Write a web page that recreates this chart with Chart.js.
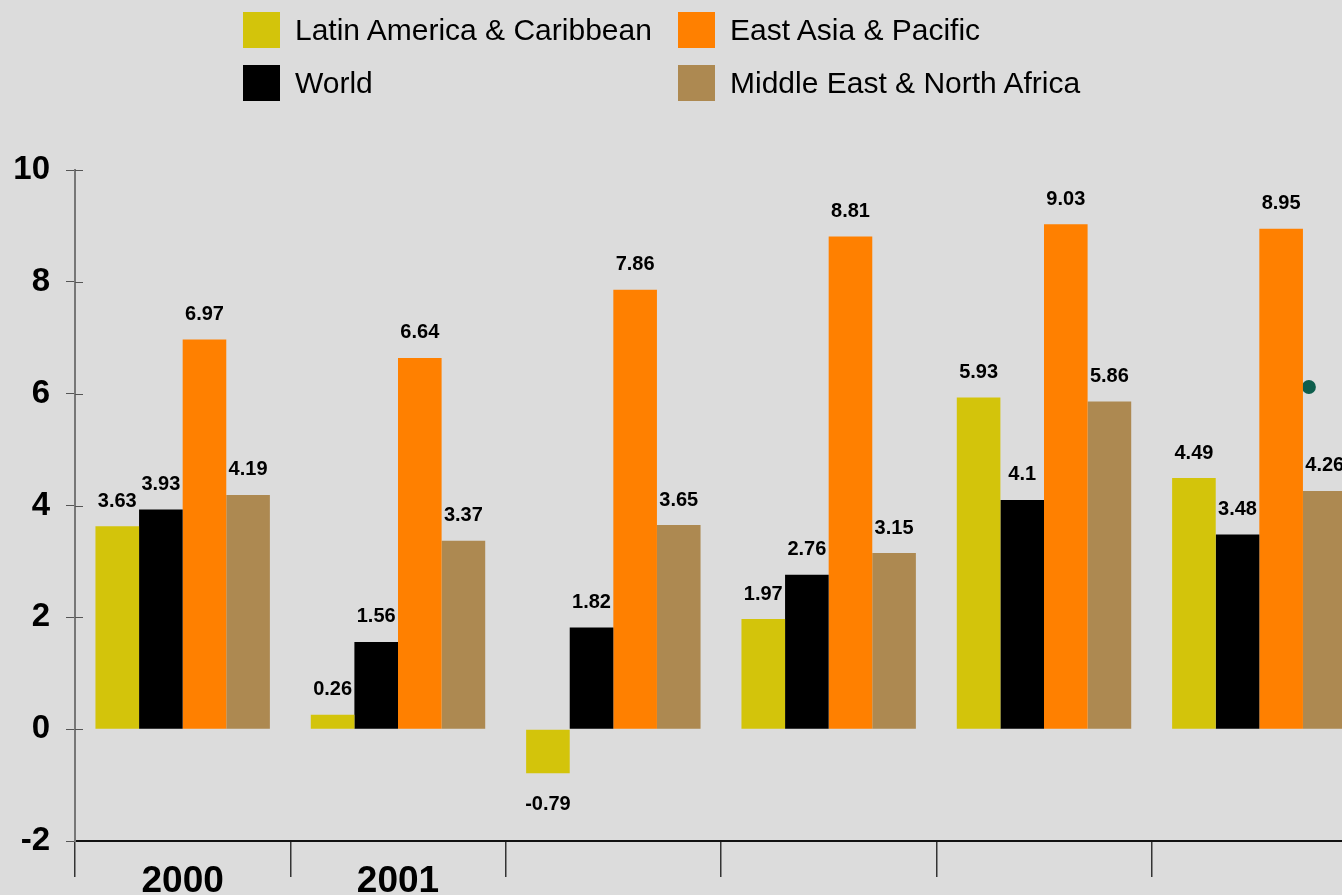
<!DOCTYPE html>
<html>
<head>
<meta charset="utf-8">
<script src="https://cdn.jsdelivr.net/npm/chart.js@4/dist/chart.umd.min.js"></script>
<style>
    html, body { margin: 0; padding: 0; background: #dcdcdc; overflow: hidden; }
    body { width: 1342px; height: 895px; position: relative; }
    #growthChart { position: absolute; left: 0; top: 0; }
    #legend { position: absolute; left: 243px; top: 12px; font-family: "Liberation Sans", Arial, sans-serif; font-size: 30px; color: #000; }
    .item { position: absolute; display: flex; align-items: center; white-space: nowrap; height: 36px; }
    .swatch { width: 37px; height: 36px; margin-right: 15px; flex: none; }
</style>
</head>
<body>
<canvas id="growthChart" width="1367" height="895"></canvas>
<div id="legend"></div>
<script>
// GDP growth by region, annual %
const years = ["2000", "2001", "", "", "", ""];
const latinAmerica = [3.63, 0.26, -0.79, 1.97, 5.93, 4.49];
const world = [3.93, 1.56, 1.82, 2.76, 4.1, 3.48];
const eastAsia = [6.97, 6.64, 7.86, 8.81, 9.03, 8.95];
const middleEast = [4.19, 3.37, 3.65, 3.15, 5.86, 4.26];
// stray marker sitting behind the last group (x as fractional category index)
const extraPoint = { x: 5.23, y: 6.12 };

const yTicks = { min: -2, max: 10, step: 2 };

const series = [
    { label: "Latin America & Caribbean", data: latinAmerica, color: "#d3c40b" },
    { label: "World", data: world, color: "#000000" },
    { label: "East Asia & Pacific", data: eastAsia, color: "#ff8000" },
    { label: "Middle East & North Africa", data: middleEast, color: "#ad8951" },
];

const FONT = "'Liberation Sans', Arial, sans-serif";

// marker drawn under the bars
const markerBehind = {
    id: "markerBehind",
    beforeDatasetsDraw(chart) {
        const ctx = chart.ctx;
        const px = chart.scales.x.getPixelForValue(extraPoint.x);
        const py = chart.scales.y.getPixelForValue(extraPoint.y);
        ctx.save();
        ctx.fillStyle = "#0e5e4d";
        ctx.beginPath();
        ctx.arc(px, py, 7, 0, Math.PI * 2);
        ctx.fill();
        ctx.restore();
    },
};

// value labels above (or below) each bar
const barLabels = {
    id: "barLabels",
    afterDatasetsDraw(chart) {
        const ctx = chart.ctx;
        ctx.save();
        ctx.font = "bold 20px " + FONT;
        ctx.fillStyle = "#000";
        ctx.textAlign = "center";
        ctx.textBaseline = "alphabetic";
        chart.data.datasets.forEach((ds, i) => {
            chart.getDatasetMeta(i).data.forEach((bar, j) => {
                const v = ds.data[j];
                const y = v >= 0 ? bar.y - 19.5 : bar.y + 36.5;
                ctx.fillText(String(v), bar.x, y);
            });
        });
        ctx.restore();
    },
};

// short tick marks crossing to the right of the value axis
const axisTicks = {
    id: "axisTicks",
    afterDraw(chart) {
        const ctx = chart.ctx;
        const y = chart.scales.y;
        ctx.save();
        ctx.strokeStyle = "#555";
        ctx.lineWidth = 1;
        for (let v = yTicks.min + yTicks.step; v <= yTicks.max; v += yTicks.step) {
            const py = Math.round(y.getPixelForValue(v)) + 0.5;
            ctx.beginPath();
            ctx.moveTo(y.right, py);
            ctx.lineTo(y.right + 8, py);
            ctx.stroke();
        }
        ctx.restore();
    },
};

const ctx = document.getElementById("growthChart").getContext("2d");

const chart = new Chart(ctx, {
    type: "bar",
    data: {
        labels: years,
        datasets: series.map((s) => ({
            label: s.label,
            data: s.data,
            backgroundColor: s.color,
            borderWidth: 0,
        })),
    },
    options: {
        responsive: false,
        devicePixelRatio: 1,
        animation: false,
        categoryPercentage: 0.81,
        barPercentage: 1.0,
        layout: { padding: { top: 170, right: 0, left: 0, bottom: 0 } },
        plugins: {
            legend: { display: false },
            tooltip: { enabled: false },
        },
        scales: {
            x: {
                offset: true,
                grid: {
                    offset: true,
                    drawOnChartArea: false,
                    drawTicks: true,
                    tickLength: 36,
                    color: "#333",
                    lineWidth: 1.5,
                },
                border: { display: true, color: "#111", width: 2 },
                ticks: {
                    color: "#000",
                    font: { family: FONT, size: 37, weight: "bold" },
                    padding: -17,
                    maxRotation: 0,
                    autoSkip: false,
                },
                afterFit(scale) { scale.height = 54; },
            },
            y: {
                min: yTicks.min,
                max: yTicks.max,
                ticks: {
                    stepSize: yTicks.step,
                    color: "#000",
                    font: { family: FONT, size: 33, weight: "bold" },
                    padding: 16,
                },
                grid: {
                    drawOnChartArea: false,
                    drawTicks: true,
                    tickLength: 9,
                    color: "#555",
                    lineWidth: 1,
                },
                border: { display: true, color: "#777", width: 2 },
                afterFit(scale) { scale.width = 75; },
            },
        },
    },
    plugins: [markerBehind, barLabels, axisTicks],
});

// legend laid out in two columns
const legend = document.getElementById("legend");
chart.data.datasets.forEach((ds, i) => {
    const col = Math.floor(i / 2);
    const row = i % 2;
    const item = document.createElement("div");
    item.className = "item";
    item.style.left = col * 435 + "px";
    item.style.top = row * 53 + "px";
    item.innerHTML = '<span class="swatch" style="background:' + ds.backgroundColor + '"></span><span>' + ds.label + "</span>";
    legend.appendChild(item);
});
</script>
</body>
</html>
